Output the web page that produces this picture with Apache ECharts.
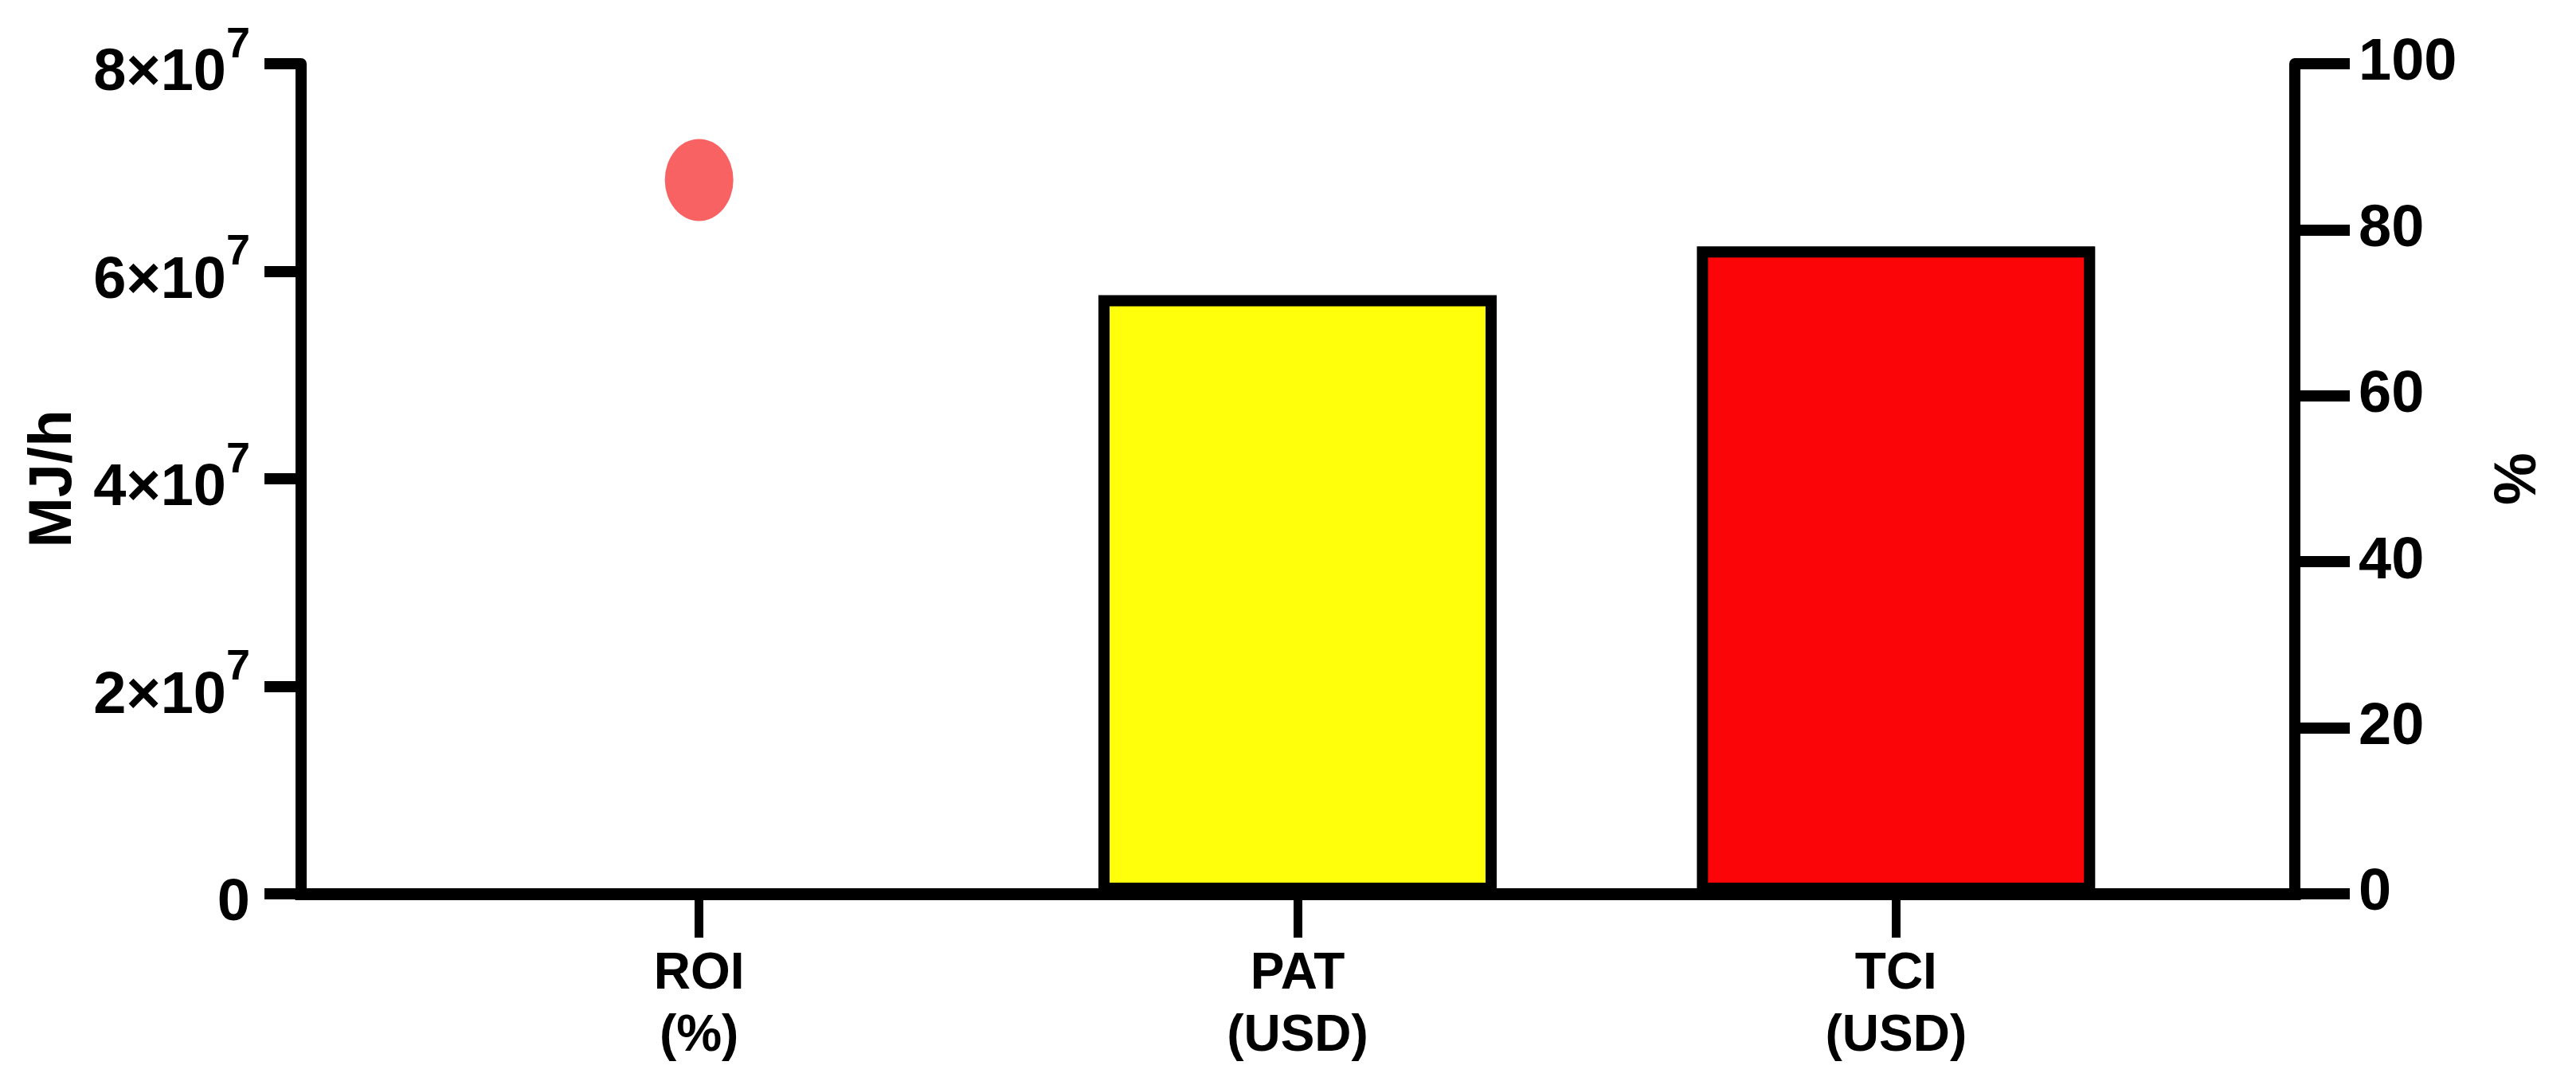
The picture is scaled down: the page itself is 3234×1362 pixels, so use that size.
<!DOCTYPE html>
<html>
<head>
<meta charset="utf-8">
<script src="https://cdn.jsdelivr.net/npm/echarts@6/dist/echarts.min.js"></script>
<style>
  html, body { margin: 0; padding: 0; background: #fff; }
  #chart { width: 3234px; height: 1362px; }
</style>
</head>
<body>
<div id="chart"></div>
<script>
// categories and values
const categories = ['ROI\n(%)', 'PAT\n(USD)', 'TCI\n(USD)']
const energyValues = [null, 5.77e7, 6.24e7]   // MJ/h, left axis
const percentValues = [86, null, null]        // %, right axis
const barColors = ['#ffffff', '#FFFF0C', '#FC0508']
const leftTicks = { min: 0, max: 8e7, interval: 2e7 }
const rightTicks = { min: 0, max: 100, interval: 20 }

const narrow = "'Liberation Sans Narrow', 'Liberation Sans', Arial, sans-serif"
const wide = "'Liberation Sans', Arial, sans-serif"

const chart = echarts.init(document.getElementById('chart'))

function formatLeft(v) {
  if (v === 0) return '{base|0}'
  return `{base|${v / 1e7}×10}{sup|7}`
}

chart.setOption({
  animation: false,
  backgroundColor: '#fff',
  grid: [
    { left: 378, right: 353, top: 80, bottom: 240 },
    { left: 502, right: 478, top: 80, bottom: 240 }
  ],
  xAxis: [
    {
      gridIndex: 0,
      type: 'value',
      min: 0,
      max: 1,
      axisLine: { show: true, onZero: false, lineStyle: { color: '#000', width: 15, cap: 'square' } },
      axisTick: { show: false },
      axisLabel: { show: false },
      splitLine: { show: false }
    },
    {
      gridIndex: 1,
      type: 'category',
      data: categories,
      axisLine: { show: false },
      axisTick: { show: true, alignWithLabel: true, length: 55, lineStyle: { color: '#000', width: 11 } },
      axisLabel: {
        margin: 62,
        color: '#000',
        fontFamily: narrow,
        fontWeight: 'bold',
        fontSize: 64,
        lineHeight: 78
      },
      splitLine: { show: false }
    }
  ],
  yAxis: [
    {
      gridIndex: 0,
      type: 'value',
      position: 'left',
      ...leftTicks,
      name: 'MJ/h',
      nameLocation: 'middle',
      nameRotate: 90,
      nameGap: 262,
      nameTextStyle: { color: '#000', fontFamily: wide, fontWeight: 'bold', fontSize: 76 },
      axisLine: { show: true, lineStyle: { color: '#000', width: 14 } },
      axisTick: { show: true, length: 46, lineStyle: { color: '#000', width: 14 } },
      axisLabel: {
        margin: 64,
        formatter: formatLeft,
        rich: {
          base: {
            color: '#000', fontFamily: narrow, fontWeight: 'bold',
            fontSize: 74, lineHeight: 100, verticalAlign: 'bottom'
          },
          sup: {
            color: '#000', fontFamily: narrow, fontWeight: 'bold',
            fontSize: 54, lineHeight: 54, verticalAlign: 'top'
          }
        }
      },
      splitLine: { show: false }
    },
    {
      gridIndex: 0,
      type: 'value',
      position: 'right',
      ...rightTicks,
      name: '%',
      nameLocation: 'middle',
      nameRotate: 90,
      nameGap: 245,
      nameTextStyle: { color: '#000', fontFamily: wide, fontWeight: 'bold', fontSize: 74 },
      axisLine: { show: true, lineStyle: { color: '#000', width: 14 } },
      axisTick: { show: true, length: 69, lineStyle: { color: '#000', width: 14 } },
      axisLabel: {
        margin: 80,
        color: '#000',
        fontFamily: narrow,
        fontWeight: 'bold',
        fontSize: 74
      },
      splitLine: { show: false }
    },
    { gridIndex: 1, type: 'value', ...leftTicks, show: false },
    { gridIndex: 1, type: 'value', ...rightTicks, show: false }
  ],
  series: [
    {
      type: 'bar',
      xAxisIndex: 1,
      yAxisIndex: 2,
      barWidth: 500,
      z: 1,
      data: energyValues.map((v, i) => ({
        value: v,
        itemStyle: { color: barColors[i], borderColor: '#000', borderWidth: 14 }
      }))
    },
    {
      type: 'scatter',
      xAxisIndex: 1,
      yAxisIndex: 3,
      symbol: 'circle',
      symbolSize: [86, 103],
      itemStyle: { color: '#F86262', opacity: 1 },
      data: percentValues
    }
  ]
})
</script>
</body>
</html>
